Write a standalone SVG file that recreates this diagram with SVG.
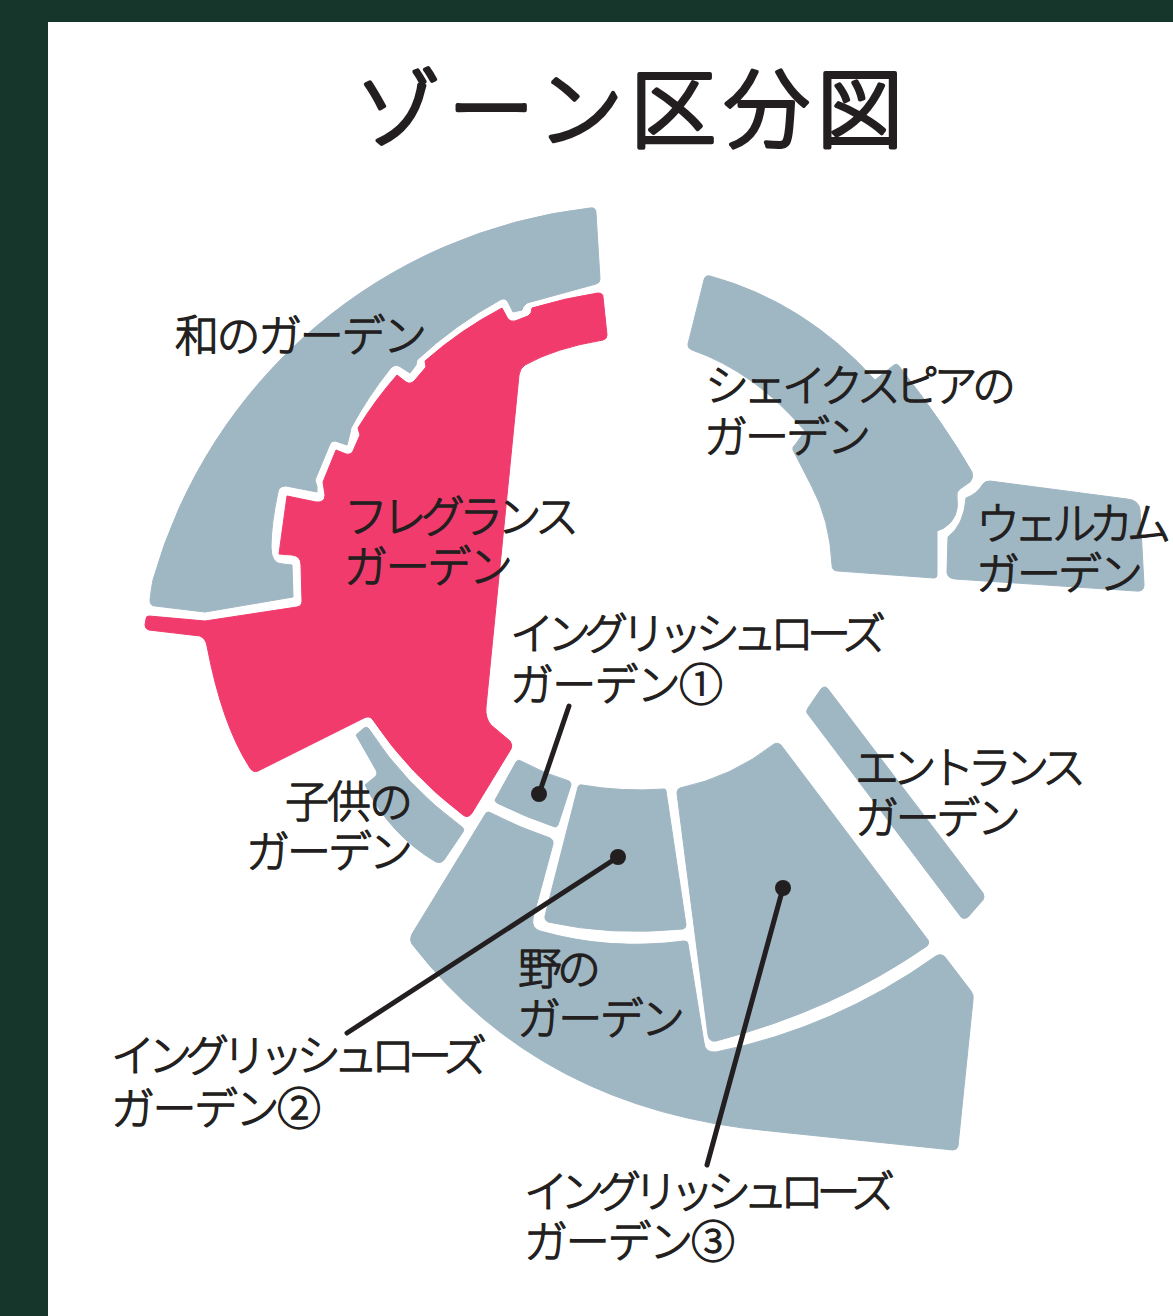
<svg xmlns="http://www.w3.org/2000/svg" width="1173" height="1316" viewBox="0 0 1173 1316">
<style>
.z{fill:#9fb6c3;stroke:#9fb6c3;stroke-width:1;stroke-linejoin:round}
.r{fill:#f03b6c;stroke:#f03b6c;stroke-width:1;stroke-linejoin:round}
text{font-family:"Noto Sans CJK JP","Noto Sans",sans-serif;fill:#231f20;stroke:#231f20;stroke-linejoin:round;stroke-linecap:round}
.t{font-size:86px;font-weight:300;stroke-width:4px}
.l{font-size:44px;font-weight:300;stroke-width:1.3px}
.c{stroke:#231f20;stroke-width:5;stroke-linecap:round;fill:none}
.d{fill:#231f20}
</style>
<rect width="1173" height="1316" fill="#ffffff"/>
<path d="M0 0H1173V22H48V1316H0Z" fill="#17362b"/>
<text class="t" x="355" y="141" textLength="548" lengthAdjust="spacing">ゾーン区分図</text>
<g id="wa"><path class="z" d="M150 600C150 600 151 590 153 580A515 515 0 0 1 590 208Q596 207 596 213L600 279Q600 283 596 284L527 303L523 307L522 310L513 312L508 302Q505 297 500 300A420 420 0 0 0 417 360L416 365L410 373L399 366Q394 364 390 369A400 400 0 0 0 351 428L350 433L347 445L335 441Q331 441 330 444L315 480L317 487L317 492L286 486Q279 486 278 492Q271 525 271 547Q271 564 283 564L292 565L293 597L205 612L155 606Q150 606 150 600Z"/></g>
<g id="fragrance"><path class="r" d="M149 616L205 621L297 607Q302 606 302 601L301 565Q301 556 292 555L279 554L287 496L316 502Q325 503 325 495L323 482L336 450L346 454Q351 455 353 451L360 435L358 428Q375 400 397 375L406 382Q411 385 415 380L426 367L425 361Q460 330 502 308L508 319Q511 322 515 321L528 316Q532 314 532 308Q565 298 598 293Q603 293 603 297L607 335Q607 339 603 340Q555 348 525 365Q520 368 519 375L486 707Q485 718 491 725L510 741Q513 745 511 749L472 813Q468 819 463 815Q410 775 373 720Q370 715 364 718L258 771Q253 773 250 768Q222 725 207 646Q206 639 200 636L149 630Q145 629 145 625L146 619Q146 616 149 616Z"/></g>
<g id="kodomo"><path class="z" d="M356 735L364 728Q367 726 369 729Q405 785 462 827Q465 829 463 832L444 860Q441 864 436 862Q390 835 365 785L376 776Q378 773 376 770Z"/></g>
<g id="rose1"><path class="z" d="M495 800L516 762Q518 759 521 761Q545 774 569 781Q571 782 571 785L558 825Q557 827 555 827Q525 817 497 803Q495 802 495 800Z"/></g>
<g id="rose2"><path class="z" d="M578 787Q579 784 582 785Q622 792 664 789Q666 789 666 791L686 925Q686 928 683 929Q610 936 548 922Q544 920 545 916Z"/></g>
<g id="rose3"><path class="z" d="M677 793Q677 789 680 788Q732 777 774 744Q778 742 781 745L928 940Q930 943 927 946Q835 1010 716 1041Q709 1042 708 1035Z"/></g>
<g id="nono"><path class="z" d="M486 813Q488 811 491 813Q520 828 550 838Q554 840 553 844L533 918Q531 928 540 931Q610 951 684 941Q688 941 688 944L704 1043Q705 1053 716 1052Q835 1028 936 956Q941 953 945 957L971 991Q974 995 973 1000L958 1146Q957 1150 953 1150L770 1131Q540 1110 412 944Q409 940 412 934Z"/></g>
<g id="entrance"><path class="z" d="M807 713Q806 711 808 708L821 689Q825 685 828 689L983 893Q985 897 983 900L968 917Q964 920 961 917Z"/></g>
<g id="shakespeare"><path class="z" d="M704 280Q705 275 710 276Q805 302 875 380L894 365Q897 363 899 366Q945 425 972 472Q974 478 970 482L960 489Q956 492 957 497Q960 518 944 528L937 531L937 575Q937 578 934 578L838 571Q832 571 832 565Q830 520 811 485L793 450Q792 447 795 445L805 431Q755 372 692 350Q687 348 688 344Z"/></g>
<g id="welcome"><path class="z" d="M948 537Q964 525 966 498Q977 494 983 484Q985 481 990 481L1127 499Q1139 500 1140 510L1144 585Q1144 592 1136 591L955 579Q947 578 947 572Z"/></g>
<g id="connectors">
<path class="c" d="M569 706L539 794"/><circle class="d" cx="539" cy="794" r="8"/>
<path class="c" d="M347 1033L618 857"/><circle class="d" cx="618" cy="857" r="8"/>
<path class="c" d="M707 1165L783 888"/><circle class="d" cx="783" cy="888" r="8"/>
</g>
<g id="labels">
<text class="l" x="175" y="352" textLength="252">和のガーデン</text>
<text class="l" x="705" y="402" textLength="311">シェイクスピアの</text>
<text class="l" x="704" y="453" textLength="167">ガーデン</text>
<text class="l" x="976" y="540" textLength="195">ウェルカム</text>
<text class="l" x="976" y="590" textLength="167">ガーデン</text>
<text class="l" x="344" y="533" textLength="235">フレグランス</text>
<text class="l" x="344" y="583" textLength="169">ガーデン</text>
<text class="l" x="510" y="650" textLength="376">イングリッシュローズ</text>
<text class="l" x="510" y="701" textLength="213">ガーデン①</text>
<text class="l" x="855" y="784" textLength="231">エントランス</text>
<text class="l" x="855" y="834" textLength="166">ガーデン</text>
<text class="l" x="285" y="818" textLength="128">子供の</text>
<text class="l" x="246" y="868" textLength="167">ガーデン</text>
<text class="l" x="518" y="985" textLength="83">野の</text>
<text class="l" x="517" y="1035" textLength="168">ガーデン</text>
<text class="l" x="111" y="1072" textLength="376">イングリッシュローズ</text>
<text class="l" x="111" y="1125" textLength="210">ガーデン②</text>
<text class="l" x="524" y="1208" textLength="371">イングリッシュローズ</text>
<text class="l" x="524" y="1258" textLength="211">ガーデン③</text>
</g>
</svg>
